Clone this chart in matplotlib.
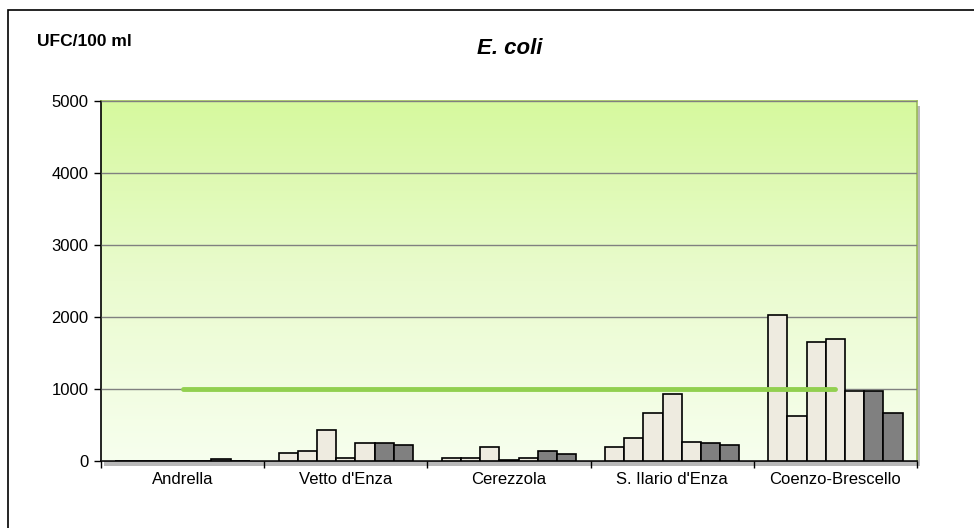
import numpy as np
import matplotlib
matplotlib.use("Agg")
import matplotlib.pyplot as plt
from matplotlib.patches import Rectangle

plt.rcParams['font.family'] = ['Liberation Sans', 'DejaVu Sans']

# ---- data ----
stations = ["Andrella", "Vetto d'Enza", "Cerezzola", "S. Ilario d'Enza", "Coenzo-Brescello"]
# 7 campaigns per station (first 5 light, last 2 dark)
s1 = [0, 115, 45, 200, 2030]
s2 = [0, 140, 45, 315, 630]
s3 = [0, 430, 200, 670, 1655]
s4 = [0, 40, 20, 935, 1700]
s5 = [0, 250, 45, 270, 975]
s6 = [25, 250, 135, 250, 975]
s7 = [0, 225, 95, 225, 670]
limit = [1000, 1000, 1000, 1000, 1000]

series = [s1, s2, s3, s4, s5, s6, s7]
colors = ["#EEEBE0"] * 5 + ["#808080"] * 2

fig = plt.figure(figsize=(9.74, 5.28), dpi=100)

# outer frame
fig.patches.append(Rectangle((8/974, -0.1), 1.1, 1 - 10/528 + 0.1, transform=fig.transFigure,
                             fill=False, edgecolor="black", linewidth=1.2, zorder=-2))

left, bottom, width, height = 101/974, 1 - 461/528, 816/974, 360/528
# shadow of the plot area
fig.patches.append(Rectangle((left + 3/974, bottom - 5/528), width, height, transform=fig.transFigure,
                             facecolor="#B8B8B8", edgecolor="none", zorder=-1))
ax = fig.add_axes([left, bottom, width, height])

n = len(stations)
x = np.arange(n)
bw = 1 / 8.5
# gradient background
grad = np.linspace(0, 1, 256).reshape(-1, 1)
cmap = matplotlib.colors.LinearSegmentedColormap.from_list("g", ["#F7FFEE", "#EAFBCF", "#D6F99E"])
ax.imshow(grad, aspect="auto", cmap=cmap, extent=(-0.5, n - 0.5, 0, 5000), origin="lower", zorder=0)

for i, s in enumerate(series):
    ax.bar(x + (i - 3) * bw, s, width=bw, color=colors[i], edgecolor="black", linewidth=1.2, zorder=3)

ax.plot(x, limit, color="#92D050", linewidth=3.5, solid_capstyle="round", zorder=4)

ax.set_xlim(-0.5, n - 0.5)
ax.set_ylim(0, 5000)
ax.set_yticks([0, 1000, 2000, 3000, 4000, 5000])
ax.yaxis.grid(True, color="#808080", linewidth=1)
ax.set_axisbelow(False)
for gl in ax.get_ygridlines():
    gl.set_zorder(1)

ax.set_xticks(x)
ax.set_xticklabels(stations)
ax.set_xticks(np.arange(-0.5, n, 1), minor=True)
ax.tick_params(axis="x", which="major", length=0, pad=8, labelsize=12)
ax.tick_params(axis="x", which="minor", length=5, width=1, direction="out")
ax.tick_params(axis="y", length=5, width=1, labelsize=12, pad=4)

ax.spines["left"].set_color("black")
ax.spines["bottom"].set_color("black")
ax.spines["top"].set_color("#9BBB59")
ax.spines["right"].set_color("#9BBB59")
for sp in ax.spines.values():
    sp.set_linewidth(1.2)

fig.text(37/974, 1 - 42/528, "UFC/100 ml", fontsize=12.5, fontweight="bold", va="center", ha="left")
fig.text(510/974, 1 - 48/528, "E. coli", fontsize=16, fontweight="bold", style="italic", va="center", ha="center")

fig.savefig("out.png", dpi=100)
